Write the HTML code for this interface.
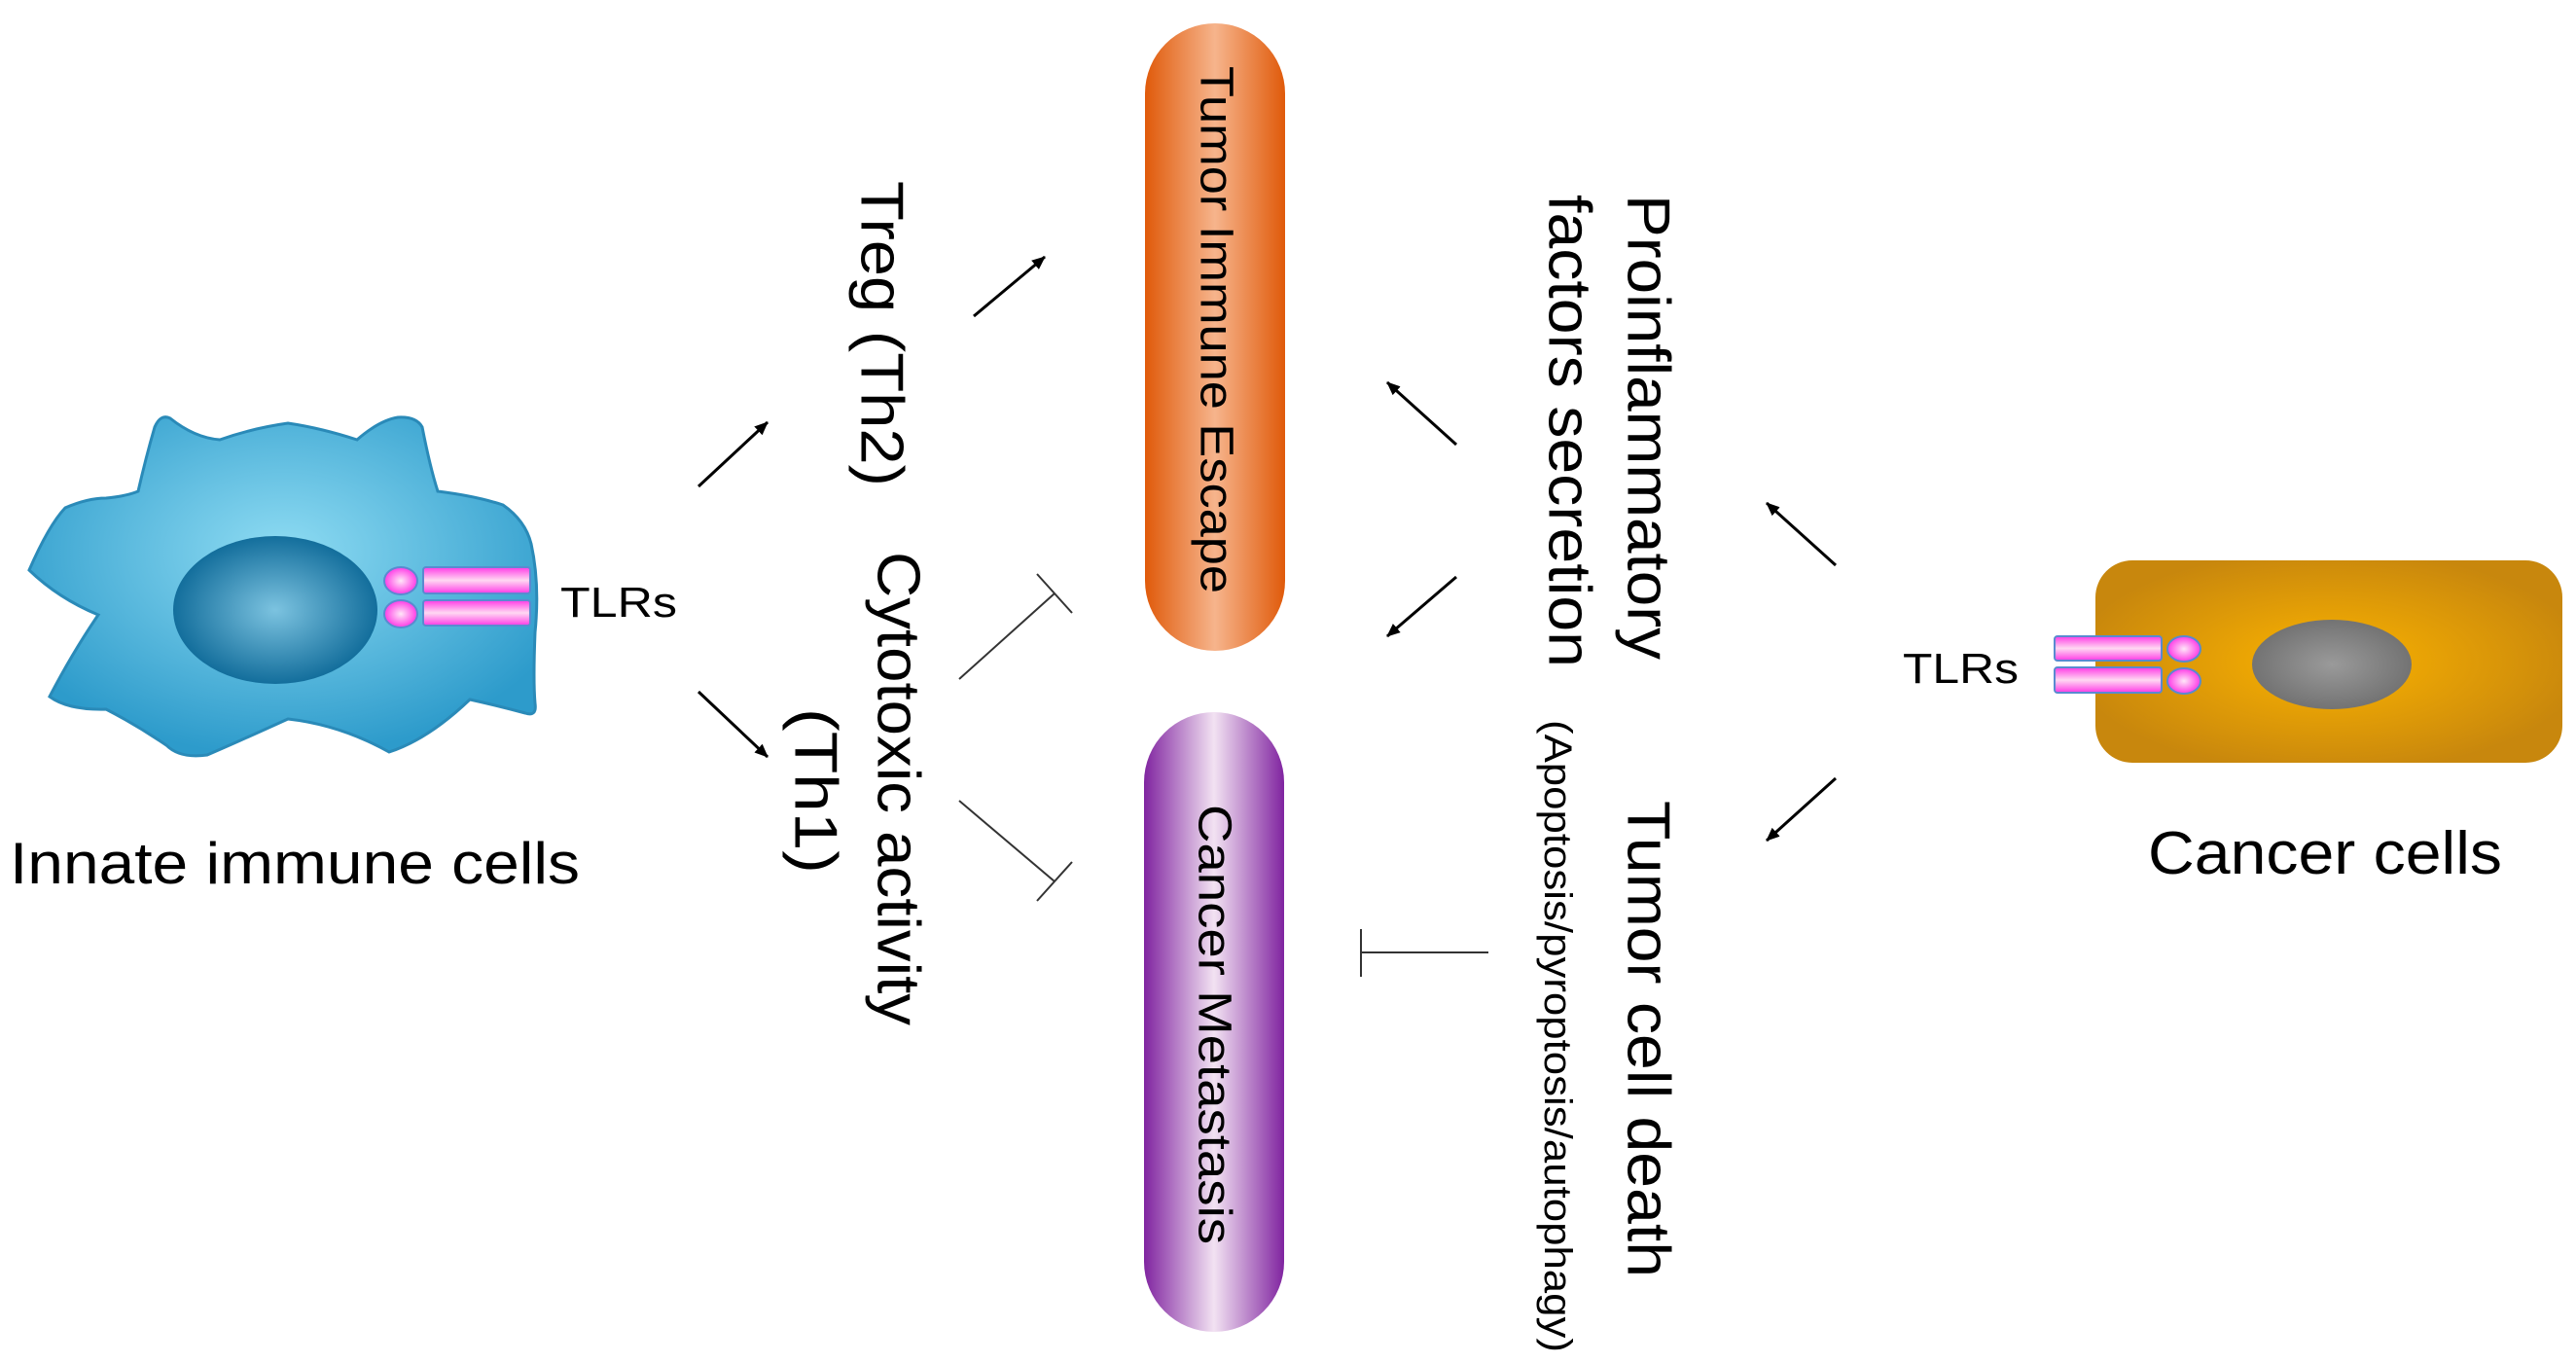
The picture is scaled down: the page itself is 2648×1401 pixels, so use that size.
<!DOCTYPE html>
<html><head><meta charset="utf-8"><style>html,body{margin:0;padding:0;background:#fff}svg{display:block}</style></head>
<body>
<svg width="2648" height="1401" viewBox="0 0 2648 1401" xmlns="http://www.w3.org/2000/svg" font-family="Liberation Sans, Arial, sans-serif">
<defs>
<radialGradient id="cellg" cx="0.5" cy="0.4" r="0.6"><stop offset="0" stop-color="#8fdcf3"/><stop offset="1" stop-color="#2d9bcb"/></radialGradient>
<radialGradient id="nucg" cx="0.5" cy="0.5" r="0.5"><stop offset="0" stop-color="#7cc3e0"/><stop offset="1" stop-color="#136e9c"/></radialGradient>
<radialGradient id="cang" cx="0.5" cy="0.5" r="0.55"><stop offset="0" stop-color="#fbb300"/><stop offset="1" stop-color="#c8870d"/></radialGradient>
<radialGradient id="cnuc" cx="0.5" cy="0.5" r="0.5"><stop offset="0" stop-color="#9a9a9a"/><stop offset="1" stop-color="#737373"/></radialGradient>
<linearGradient id="orag" x1="0" y1="0" x2="1" y2="0"><stop offset="0" stop-color="#e05a0a"/><stop offset="0.5" stop-color="#f6b48c"/><stop offset="1" stop-color="#e05a0a"/></linearGradient>
<linearGradient id="purg" x1="0" y1="0" x2="1" y2="0"><stop offset="0" stop-color="#8024a0"/><stop offset="0.5" stop-color="#f2e2f2"/><stop offset="1" stop-color="#8024a0"/></linearGradient>
<linearGradient id="tlrg" x1="0" y1="0" x2="0" y2="1"><stop offset="0" stop-color="#ff3ae6"/><stop offset="0.5" stop-color="#ffd8f2"/><stop offset="1" stop-color="#ff3ae6"/></linearGradient>
<radialGradient id="tlrc" cx="0.5" cy="0.5" r="0.5"><stop offset="0" stop-color="#ffe6f8"/><stop offset="1" stop-color="#ff3ae6"/></radialGradient>
<marker id="ah" markerWidth="14" markerHeight="12" refX="13" refY="6" orient="auto" markerUnits="userSpaceOnUse"><path d="M0,0 L14,6 L0,12 z" fill="#000"/></marker>
</defs>

<path d="M30,586 Q50,540 67,522 Q90,512 109,512 Q130,510 142,505 Q150,470 159,439 Q165,425 175,430 Q200,450 226,452 Q260,440 296,435 Q330,440 367,452 Q390,432 409,429 Q428,428 434,439 Q442,480 450,505 Q490,510 517,519 Q540,535 546,559 Q555,600 550,650 Q548,700 550,723 Q552,737 540,733 Q510,725 483,719 Q440,760 400,773 Q350,745 296,739 Q250,760 213,776 Q185,780 171,766 Q140,745 109,729 Q70,730 51,716 Q75,670 101,632 Q60,615 30,586 Z" fill="url(#cellg)" stroke="#2a8ab8" stroke-width="3"/>
<ellipse cx="283" cy="627" rx="105" ry="76" fill="url(#nucg)"/>
<ellipse cx="412" cy="597" rx="17" ry="14" fill="url(#tlrc)" stroke="#5a8ad0" stroke-width="2"/>
<ellipse cx="412" cy="631" rx="17" ry="14" fill="url(#tlrc)" stroke="#5a8ad0" stroke-width="2"/>
<rect x="435" y="583" width="110" height="27" rx="3" fill="url(#tlrg)" stroke="#5a8ad0" stroke-width="2"/>
<rect x="435" y="617" width="110" height="26" rx="3" fill="url(#tlrg)" stroke="#5a8ad0" stroke-width="2"/>
<text x="576" y="634" font-size="44" textLength="120" lengthAdjust="spacingAndGlyphs">TLRs</text>
<text x="10" y="908" font-size="60" textLength="586" lengthAdjust="spacingAndGlyphs">Innate immune cells</text>

<rect x="1177" y="24" width="144" height="645" rx="72" fill="url(#orag)"/>
<rect x="1176" y="732" width="144" height="637" rx="72" fill="url(#purg)"/>
<g font-size="48" dominant-baseline="central">
<text transform="translate(1250,68) rotate(90)" textLength="542" lengthAdjust="spacingAndGlyphs">Tumor Immune Escape</text>
<text transform="translate(1248,827) rotate(90)" textLength="452" lengthAdjust="spacingAndGlyphs">Cancer Metastasis</text>
</g>

<g font-size="62" dominant-baseline="central">
<text transform="translate(906,186) rotate(90)" textLength="314" lengthAdjust="spacingAndGlyphs">Treg (Th2)</text>
<text transform="translate(923,567) rotate(90)" textLength="487" lengthAdjust="spacingAndGlyphs">Cytotoxic activity</text>
<text transform="translate(838,728) rotate(90)" textLength="170" lengthAdjust="spacingAndGlyphs">(Th1)</text>
<text transform="translate(1694,200) rotate(90)" textLength="478" lengthAdjust="spacingAndGlyphs">Proinflammatory</text>
<text transform="translate(1613,200) rotate(90)" textLength="486" lengthAdjust="spacingAndGlyphs">factors secretion</text>
<text transform="translate(1694,823) rotate(90)" textLength="490" lengthAdjust="spacingAndGlyphs">Tumor cell death</text>
</g>
<text transform="translate(1601,740) rotate(90)" font-size="40" dominant-baseline="central" textLength="650" lengthAdjust="spacingAndGlyphs">(Apoptosis/pyroptosis/autophagy)</text>

<g stroke="#000" stroke-width="3" marker-end="url(#ah)">
<line x1="718" y1="500" x2="789" y2="434"/>
<line x1="718" y1="711" x2="789" y2="778"/>
<line x1="1001" y1="325" x2="1074" y2="264"/>
<line x1="1497" y1="457" x2="1426" y2="393"/>
<line x1="1497" y1="593" x2="1426" y2="654"/>
<line x1="1887" y1="581" x2="1816" y2="517"/>
<line x1="1887" y1="800" x2="1816" y2="864"/>
</g>
<g stroke="#333" stroke-width="2" fill="none">
<line x1="986" y1="698" x2="1084" y2="610"/>
<line x1="1066" y1="590" x2="1102" y2="630"/>
<line x1="986" y1="823" x2="1084" y2="906"/>
<line x1="1066" y1="926" x2="1102" y2="886"/>
<line x1="1530" y1="979" x2="1399" y2="979"/>
<line x1="1399" y1="955" x2="1399" y2="1004"/>
</g>

<rect x="2154" y="576" width="480" height="208" rx="38" fill="url(#cang)"/>
<ellipse cx="2397" cy="683" rx="82" ry="46" fill="url(#cnuc)"/>
<rect x="2112" y="654" width="110" height="25" rx="3" fill="url(#tlrg)" stroke="#5a8ad0" stroke-width="2"/>
<rect x="2112" y="686" width="110" height="26" rx="3" fill="url(#tlrg)" stroke="#5a8ad0" stroke-width="2"/>
<ellipse cx="2245" cy="667" rx="17" ry="13" fill="url(#tlrc)" stroke="#5a8ad0" stroke-width="2"/>
<ellipse cx="2245" cy="700" rx="17" ry="13" fill="url(#tlrc)" stroke="#5a8ad0" stroke-width="2"/>
<text x="1956" y="702" font-size="44" textLength="119" lengthAdjust="spacingAndGlyphs">TLRs</text>
<text x="2208" y="898" font-size="62" textLength="364" lengthAdjust="spacingAndGlyphs">Cancer cells</text>
</svg>
</body></html>
